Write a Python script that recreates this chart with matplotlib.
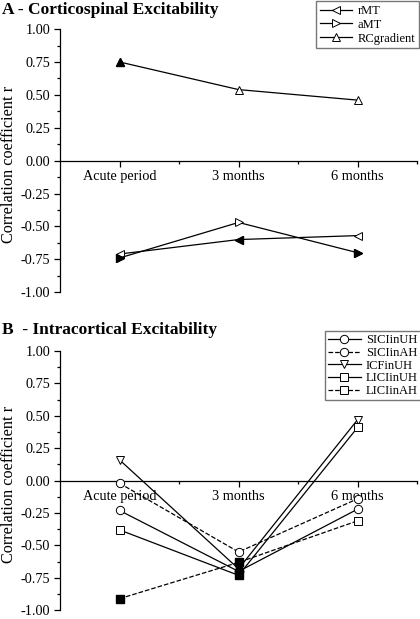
import numpy as np
import matplotlib
matplotlib.use('Agg')
import matplotlib.pyplot as plt
from matplotlib.ticker import MultipleLocator, FixedLocator

plt.rcParams['font.family'] = ['Liberation Serif', 'DejaVu Serif']

# Categories
periods = ['Acute period', '3 months', '6 months']

# Panel A - corticospinal excitability (r values, filled = significant)
rMT = [-0.71, -0.60, -0.57]
rMT_sig = [False, True, False]
aMT = [-0.74, -0.47, -0.70]
aMT_sig = [True, False, True]
RCgradient = [0.75, 0.54, 0.46]
RCgradient_sig = [True, False, False]

# Panel B - intracortical excitability
SICIinUH = [-0.23, -0.70, -0.22]
SICIinUH_sig = [False, True, False]
SICIinAH = [-0.02, -0.55, -0.14]
SICIinAH_sig = [False, False, False]
ICFinUH = [0.16, -0.68, 0.47]
ICFinUH_sig = [False, True, False]
LICIinUH = [-0.38, -0.73, 0.41]
LICIinUH_sig = [False, True, False]
LICIinAH = [-0.91, -0.63, -0.31]
LICIinAH_sig = [True, True, False]

fig = plt.figure(figsize=(4.2, 6.19), dpi=100)
axA = fig.add_axes([0.143, 0.528, 0.850, 0.425])
axB = fig.add_axes([0.143, 0.014, 0.850, 0.419])

x = np.arange(len(periods))


def draw_series(ax, vals, sig, marker, ls, label):
    ax.plot(x, vals, color='black', lw=0.9, ls=ls, marker=marker,
            markersize=6, markerfacecolor='white', markeredgecolor='black',
            markeredgewidth=0.7, label=label, zorder=3)
    vals = np.array(vals)
    sig = np.array(sig)
    ax.plot(x[sig], vals[sig], ls='none', marker=marker, markersize=6,
            color='black', zorder=4)


def style_axes(ax):
    ax.set_xlim(-0.5, 2.5)
    ax.set_ylim(-1.0, 1.0)
    ax.spines['top'].set_visible(False)
    ax.spines['right'].set_visible(False)
    ax.spines['bottom'].set_position(('data', 0))
    ax.spines['left'].set_linewidth(0.9)
    ax.spines['bottom'].set_linewidth(0.9)
    ax.yaxis.set_minor_locator(MultipleLocator(0.125))
    ax.set_yticks(np.arange(-1.0, 1.01, 0.25))
    ax.set_yticklabels(['%.2f' % v for v in np.arange(-1.0, 1.01, 0.25)])
    ax.set_xticks(x)
    ax.set_xticklabels(periods)
    ax.xaxis.set_minor_locator(FixedLocator([0.5, 1.5, 2.5]))
    ax.tick_params(axis='both', which='major', direction='out', length=4,
                   width=0.9, labelsize=10.3)
    ax.tick_params(axis='both', which='minor', direction='out', length=2.5,
                   width=0.9)
    ax.tick_params(axis='x', pad=3)
    ax.tick_params(axis='y', pad=3)
    ax.set_ylabel('Correlation coefficient r', fontsize=11.7)
    ax.yaxis.set_label_coords(-0.122, 0.485)


draw_series(axA, rMT, rMT_sig, '<', '-', 'rMT')
draw_series(axA, aMT, aMT_sig, '>', '-', 'aMT')
draw_series(axA, RCgradient, RCgradient_sig, '^', '-', 'RCgradient')
style_axes(axA)
axA.legend(loc='upper right', bbox_to_anchor=(1.005, 1.106), fontsize=9,
           frameon=True, fancybox=False, edgecolor='#555555',
           handlelength=2.6, handletextpad=0.4, borderpad=0.3,
           labelspacing=0.15, borderaxespad=0.0)

draw_series(axB, SICIinUH, SICIinUH_sig, 'o', '-', 'SICIinUH')
draw_series(axB, SICIinAH, SICIinAH_sig, 'o', '--', 'SICIinAH')
draw_series(axB, ICFinUH, ICFinUH_sig, 'v', '-', 'ICFinUH')
draw_series(axB, LICIinUH, LICIinUH_sig, 's', '-', 'LICIinUH')
draw_series(axB, LICIinAH, LICIinAH_sig, 's', '--', 'LICIinAH')
style_axes(axB)
axB.legend(loc='upper right', bbox_to_anchor=(1.01, 1.076), fontsize=9,
           frameon=True, fancybox=False, edgecolor='#555555',
           handlelength=2.6, handletextpad=0.4, borderpad=0.25,
           labelspacing=0.05, borderaxespad=0.0)

fig.text(0.005, 0.984, 'A - Corticospinal Excitability', fontsize=12.5,
         fontweight='bold', va='center', ha='left')
fig.text(0.005, 0.467, 'B  - Intracortical Excitability', fontsize=12.5,
         fontweight='bold', va='center', ha='left')

fig.savefig('out.png', dpi=100)
